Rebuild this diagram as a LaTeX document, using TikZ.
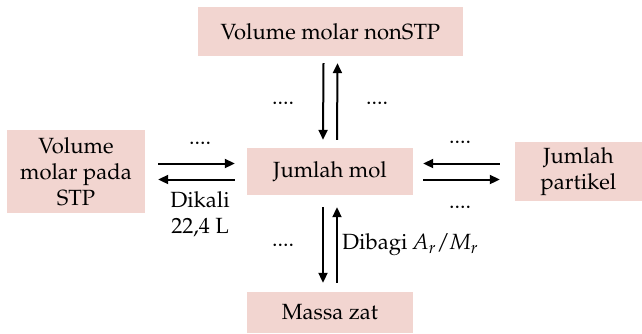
\documentclass[tikz,border=0pt]{standalone}
\usepackage[T1]{fontenc}
\usepackage{mathpazo}
\usetikzlibrary{arrows.meta}
\definecolor{boxpink}{RGB}{242,213,208}
\tikzset{
  box/.style={fill=boxpink, draw=none, align=center, inner sep=0pt, font=\fontsize{22}{26}\selectfont},
  lbl/.style={align=center, inner sep=0pt, font=\fontsize{22}{26}\selectfont},
  arr/.style={line width=2pt, -{Triangle[length=10pt,width=9pt]}},
}
\begin{document}
\begin{tikzpicture}[x=1pt,y=-1pt]
\useasboundingbox (0,0) rectangle (642,333);
\node[box, minimum width=265pt, minimum height=49pt] (T) at (330.5,31.5) {Volume molar nonSTP};
\node[box, minimum width=166pt, minimum height=47pt] (C) at (330,171.5) {Jumlah mol};
\node[box, minimum width=166pt, minimum height=41pt] (B) at (330,312.5) {Massa zat};
\node[box, minimum width=138pt, minimum height=83pt] (L) at (76,171.5) {Volume\\molar pada\\STP};
\node[box, minimum width=127pt, minimum height=59pt] (R) at (578.5,171.5) {Jumlah\\partikel};
% left arrows
\draw[arr] ([xshift=13pt,yshift=8pt]L.east) -- ([xshift=-12pt,yshift=8pt]C.west);
\draw[arr] ([xshift=-12pt,yshift=-8pt]C.west) -- ([xshift=13pt,yshift=-8pt]L.east);
% right arrows
\draw[arr] ([xshift=-15pt,yshift=8pt]R.west) -- ([xshift=10pt,yshift=8pt]C.east);
\draw[arr] ([xshift=10pt,yshift=-8pt]C.east) -- ([xshift=-15pt,yshift=-8pt]R.west);
% top arrows
\draw[arr] ([xshift=-7pt,yshift=-7pt]T.south) -- ([xshift=-7pt,yshift=8pt]C.north);
\draw[arr] ([xshift=7pt,yshift=8pt]C.north) -- ([xshift=7pt,yshift=-7pt]T.south);
% bottom arrows
\draw[arr] ([xshift=-7pt,yshift=-12pt]C.south) -- ([xshift=-7pt,yshift=9pt]B.north);
\draw[arr] ([xshift=7pt,yshift=9pt]B.north) -- ([xshift=7pt,yshift=-12pt]C.south);
% labels
\node[lbl] (d1) at (200,143) {....};
\node[lbl] (d2) at (200,214) {Dikali\\22,4 L};
\node[lbl] (d3) at (283,103) {....};
\node[lbl] (d4) at (377,103) {....};
\node[lbl] (d5) at (460,142) {....};
\node[lbl] (d6) at (460,207) {....};
\node[lbl] (d7) at (283,245) {....};
\node[lbl, anchor=west] (d8) at (342,245) {Dibagi $\mathit{A}_{r}/\mathit{M}_{r}$};
\end{tikzpicture}
\end{document}
